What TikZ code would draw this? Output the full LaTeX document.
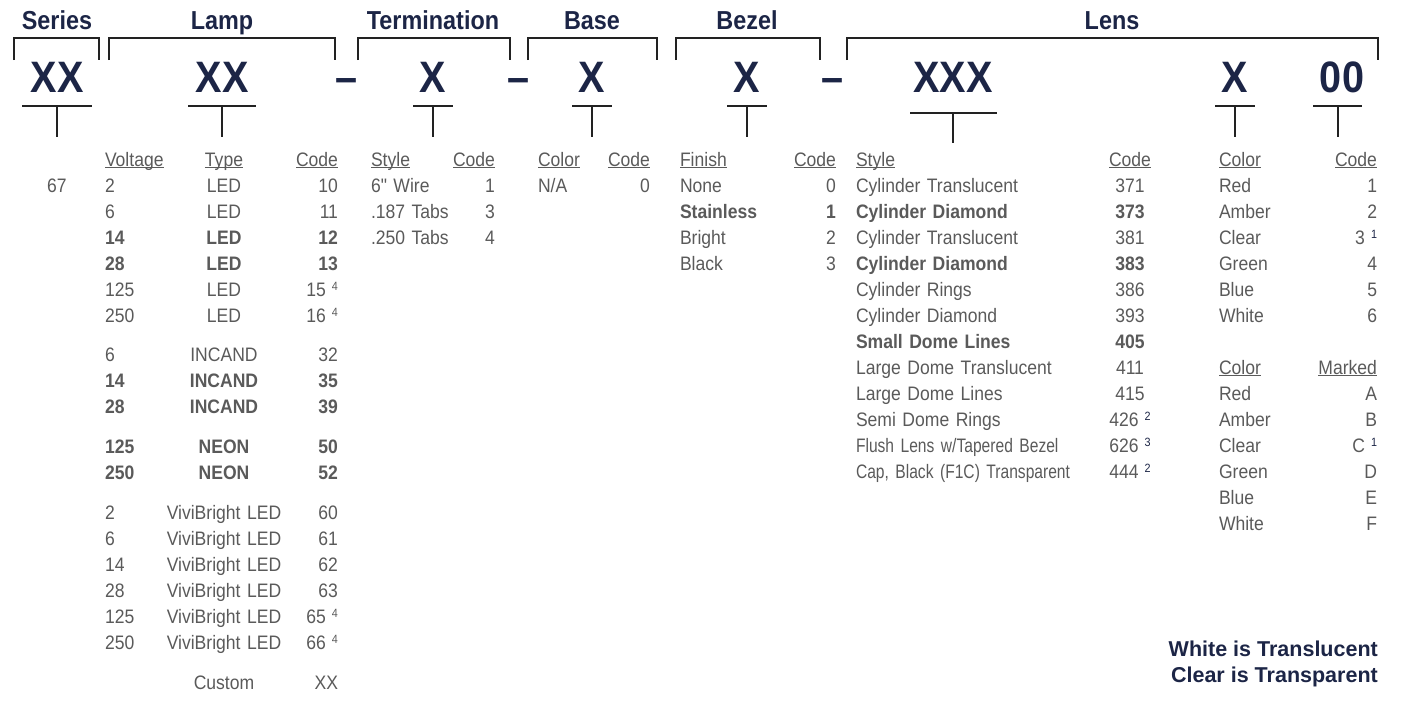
\documentclass[tikz,border=0pt]{standalone}
\usepackage{fontspec}
\setmainfont{Liberation Sans}[FakeStretch=0.9]
\newfontfamily\cellfont{Liberation Sans}[FakeStretch=0.9, Ligatures=TeXOff]
\newfontfamily\narrowfont{Liberation Sans}[FakeStretch=0.8]
\newfontfamily\notefont{Liberation Sans}
\usepackage{tikz}
\usetikzlibrary{positioning}
\definecolor{navy}{HTML}{1C2546}
\definecolor{txtgray}{HTML}{5A5A5A}
\definecolor{rulecol}{HTML}{222222}
\newcommand{\colhd}[1]{\underline{\smash{#1}}}
\newcommand{\fnote}[1]{\hspace{6pt}\raisebox{5.5pt}{\fontsize{12}{12}\selectfont #1}}
\tikzstyle{title} = [font=\fontsize{26}{30}\selectfont\bfseries, text=navy, inner sep=0, anchor=base]
\tikzstyle{code} = [font=\fontsize{44}{50}\selectfont\bfseries, text=navy, inner sep=0, anchor=base]
\tikzstyle{cell} = [font=\cellfont\fontsize{19.5}{22}\selectfont, text=txtgray, inner sep=0, text height=14pt, text depth=4pt]
\tikzstyle{lcol} = [cell, text width=300pt, align=left]
\tikzstyle{rcol} = [cell, text width=300pt, align=right]
\tikzstyle{ccol} = [cell, text width=300pt, align=center]
\tikzstyle{bracket} = [line width=2.5pt, draw=rulecol]
\tikzstyle{tee} = [line width=2pt, draw=rulecol]
\tikzstyle{note} = [font=\notefont\fontsize{21.5}{26}\selectfont\bfseries, text=navy, inner sep=0, anchor=base east]

\begin{document}
\begin{tikzpicture}[x=1pt, y=-1pt, node distance=26pt]
		\useasboundingbox (0,0) rectangle (1410,702);
		
		% group titles
		\node (tseries) [title] at (57,29) {Series};
		\node (tlamp) [title] at (222,29) {Lamp};
		\node (tterm) [title] at (433,29) {Termination};
		\node (tbase) [title] at (592,29) {Base};
		\node (tbezel) [title] at (747,29) {Bezel};
		\node (tlens) [title] at (1112,29) {Lens};
		
		\draw [bracket] (14,60) |- (99,38) -- (99,60);
		\draw [bracket] (109,60) |- (335,38) -- (335,60);
		\draw [bracket] (358,60) |- (510,38) -- (510,60);
		\draw [bracket] (528,60) |- (657,38) -- (657,60);
		\draw [bracket] (676,60) |- (820,38) -- (820,60);
		\draw [bracket] (847,60) |- (1378,38) -- (1378,60);
		
		% part number
		\node (cseries) [code] at (57,92) {XX};
		\node (clamp) [code] at (222,92) {XX};
		\node (dash1) [code] at (347,92) {--};
		\node (cterm) [code] at (433,92) {X};
		\node (dash2) [code] at (519,92) {--};
		\node (cbase) [code] at (592,92) {X};
		\node (cbezel) [code] at (747,92) {X};
		\node (dash3) [code] at (832,92) {--};
		\node (clens) [code] at (953,92) {XXX};
		\node (ccolor) [code] at (1235,92) {X};
		\node (cmark) [code] at (1342,92) {00};
		
		\draw [tee] (22,106) -- (92,106) (57,106) -- (57,137);
		\draw [tee] (188,106) -- (256,106) (222,106) -- (222,137);
		\draw [tee] (413,106) -- (453,106) (433,106) -- (433,137);
		\draw [tee] (572,106) -- (612,106) (592,106) -- (592,137);
		\draw [tee] (727,106) -- (767,106) (747,106) -- (747,137);
		\draw [tee] (910,113) -- (997,113) (953,113) -- (953,143);
		\draw [tee] (1215,106) -- (1255,106) (1235,106) -- (1235,137);
		\draw [tee] (1313,106) -- (1362,106) (1338,106) -- (1338,137);
		
		% series
		\node (s1) [ccol] at (57,187) {67};
		
		% lamp: voltage
		\node (volt) [lcol] at (255,161) {\colhd{Voltage}};
		\node (v1) [lcol, below of=volt] {2};
		\node (v2) [lcol, below of=v1] {6};
		\node (v3) [lcol, below of=v2] {\textbf{14}};
		\node (v4) [lcol, below of=v3] {\textbf{28}};
		\node (v5) [lcol, below of=v4] {125};
		\node (v6) [lcol, below of=v5] {250};
		\node (v7) [lcol, below of=v6, yshift=-13pt] {6};
		\node (v8) [lcol, below of=v7] {\textbf{14}};
		\node (v9) [lcol, below of=v8] {\textbf{28}};
		\node (v10) [lcol, below of=v9, yshift=-14pt] {\textbf{125}};
		\node (v11) [lcol, below of=v10] {\textbf{250}};
		\node (v12) [lcol, below of=v11, yshift=-14pt] {2};
		\node (v13) [lcol, below of=v12] {6};
		\node (v14) [lcol, below of=v13] {14};
		\node (v15) [lcol, below of=v14] {28};
		\node (v16) [lcol, below of=v15] {125};
		\node (v17) [lcol, below of=v16] {250};
		
		% lamp: type
		\node (type) [ccol] at (224,161) {\colhd{Type}};
		\node (t1) [ccol, below of=type] {LED};
		\node (t2) [ccol, below of=t1] {LED};
		\node (t3) [ccol, below of=t2] {\textbf{LED}};
		\node (t4) [ccol, below of=t3] {\textbf{LED}};
		\node (t5) [ccol, below of=t4] {LED};
		\node (t6) [ccol, below of=t5] {LED};
		\node (t7) [ccol, below of=t6, yshift=-13pt] {INCAND};
		\node (t8) [ccol, below of=t7] {\textbf{INCAND}};
		\node (t9) [ccol, below of=t8] {\textbf{INCAND}};
		\node (t10) [ccol, below of=t9, yshift=-14pt] {\textbf{NEON}};
		\node (t11) [ccol, below of=t10] {\textbf{NEON}};
		\node (t12) [ccol, below of=t11, yshift=-14pt] {ViviBright LED};
		\node (t13) [ccol, below of=t12] {ViviBright LED};
		\node (t14) [ccol, below of=t13] {ViviBright LED};
		\node (t15) [ccol, below of=t14] {ViviBright LED};
		\node (t16) [ccol, below of=t15] {ViviBright LED};
		\node (t17) [ccol, below of=t16] {ViviBright LED};
		\node (t18) [ccol, below of=t17, yshift=-14pt] {Custom};
		
		% lamp: code
		\node (lcode) [rcol] at (188,161) {\colhd{Code}};
		\node (l1) [rcol, below of=lcode] {10};
		\node (l2) [rcol, below of=l1] {11};
		\node (l3) [rcol, below of=l2] {\textbf{12}};
		\node (l4) [rcol, below of=l3] {\textbf{13}};
		\node (l5) [rcol, below of=l4] {15\fnote{4}};
		\node (l6) [rcol, below of=l5] {16\fnote{4}};
		\node (l7) [rcol, below of=l6, yshift=-13pt] {32};
		\node (l8) [rcol, below of=l7] {\textbf{35}};
		\node (l9) [rcol, below of=l8] {\textbf{39}};
		\node (l10) [rcol, below of=l9, yshift=-14pt] {\textbf{50}};
		\node (l11) [rcol, below of=l10] {\textbf{52}};
		\node (l12) [rcol, below of=l11, yshift=-14pt] {60};
		\node (l13) [rcol, below of=l12] {61};
		\node (l14) [rcol, below of=l13] {62};
		\node (l15) [rcol, below of=l14] {63};
		\node (l16) [rcol, below of=l15] {65\fnote{4}};
		\node (l17) [rcol, below of=l16] {66\fnote{4}};
		\node (l18) [rcol, below of=l17, yshift=-14pt] {XX};
		
		% termination
		\node (tstyle) [lcol] at (521,161) {\colhd{Style}};
		\node (ts1) [lcol, below of=tstyle] {6" Wire};
		\node (ts2) [lcol, below of=ts1] {.187 Tabs};
		\node (ts3) [lcol, below of=ts2] {.250 Tabs};
		\node (tcode) [rcol] at (345,161) {\colhd{Code}};
		\node (tc1) [rcol, below of=tcode] {1};
		\node (tc2) [rcol, below of=tc1] {3};
		\node (tc3) [rcol, below of=tc2] {4};
		
		% base
		\node (bcolor) [lcol] at (688,161) {\colhd{Color}};
		\node (bc1) [lcol, below of=bcolor] {N/A};
		\node (bcode) [rcol] at (500,161) {\colhd{Code}};
		\node (bk1) [rcol, below of=bcode] {0};
		
		% bezel
		\node (finish) [lcol] at (830,161) {\colhd{Finish}};
		\node (f1) [lcol, below of=finish] {None};
		\node (f2) [lcol, below of=f1] {\textbf{Stainless}};
		\node (f3) [lcol, below of=f2] {Bright};
		\node (f4) [lcol, below of=f3] {Black};
		\node (zcode) [rcol] at (686,161) {\colhd{Code}};
		\node (z1) [rcol, below of=zcode] {0};
		\node (z2) [rcol, below of=z1] {\textbf{1}};
		\node (z3) [rcol, below of=z2] {2};
		\node (z4) [rcol, below of=z3] {3};
		
		% lens: style
		\node (lstyle) [lcol] at (1006,161) {\colhd{Style}};
		\node (ls1) [lcol, below of=lstyle] {Cylinder Translucent};
		\node (ls2) [lcol, below of=ls1] {\textbf{Cylinder Diamond}};
		\node (ls3) [lcol, below of=ls2] {Cylinder Translucent};
		\node (ls4) [lcol, below of=ls3] {\textbf{Cylinder Diamond}};
		\node (ls5) [lcol, below of=ls4] {Cylinder Rings};
		\node (ls6) [lcol, below of=ls5] {Cylinder Diamond};
		\node (ls7) [lcol, below of=ls6] {\textbf{Small Dome Lines}};
		\node (ls8) [lcol, below of=ls7] {Large Dome Translucent};
		\node (ls9) [lcol, below of=ls8] {Large Dome Lines};
		\node (ls10) [lcol, below of=ls9] {Semi Dome Rings};
		\node (ls11) [lcol, below of=ls10] {\narrowfont Flush Lens w/Tapered Bezel};
		\node (ls12) [lcol, below of=ls11] {\narrowfont Cap, Black (F1C) Transparent};
		
		% lens: code
		\node (lncode) [ccol] at (1130,161) {\colhd{Code}};
		\node (lc1) [ccol, below of=lncode] {371};
		\node (lc2) [ccol, below of=lc1] {\textbf{373}};
		\node (lc3) [ccol, below of=lc2] {381};
		\node (lc4) [ccol, below of=lc3] {\textbf{383}};
		\node (lc5) [ccol, below of=lc4] {386};
		\node (lc6) [ccol, below of=lc5] {393};
		\node (lc7) [ccol, below of=lc6] {\textbf{405}};
		\node (lc8) [ccol, below of=lc7] {411};
		\node (lc9) [ccol, below of=lc8] {415};
		\node (lc10) [ccol, below of=lc9] {426\textcolor{navy}{\fnote{2}}};
		\node (lc11) [ccol, below of=lc10] {626\textcolor{navy}{\fnote{3}}};
		\node (lc12) [ccol, below of=lc11] {444\textcolor{navy}{\fnote{2}}};
		
		% lens: color
		\node (color) [lcol] at (1369,161) {\colhd{Color}};
		\node (k1) [lcol, below of=color] {Red};
		\node (k2) [lcol, below of=k1] {Amber};
		\node (k3) [lcol, below of=k2] {Clear};
		\node (k4) [lcol, below of=k3] {Green};
		\node (k5) [lcol, below of=k4] {Blue};
		\node (k6) [lcol, below of=k5] {White};
		\node (color2) [lcol, below of=k6, yshift=-26pt] {\colhd{Color}};
		\node (m1) [lcol, below of=color2] {Red};
		\node (m2) [lcol, below of=m1] {Amber};
		\node (m3) [lcol, below of=m2] {Clear};
		\node (m4) [lcol, below of=m3] {Green};
		\node (m5) [lcol, below of=m4] {Blue};
		\node (m6) [lcol, below of=m5] {White};
		
		\node (ccode) [rcol] at (1227,161) {\colhd{Code}};
		\node (kc1) [rcol, below of=ccode] {1};
		\node (kc2) [rcol, below of=kc1] {2};
		\node (kc3) [rcol, below of=kc2] {3\textcolor{navy}{\fnote{1}}};
		\node (kc4) [rcol, below of=kc3] {4};
		\node (kc5) [rcol, below of=kc4] {5};
		\node (kc6) [rcol, below of=kc5] {6};
		\node (marked) [rcol, below of=kc6, yshift=-26pt] {\colhd{Marked}};
		\node (mc1) [rcol, below of=marked] {A};
		\node (mc2) [rcol, below of=mc1] {B};
		\node (mc3) [rcol, below of=mc2] {C\textcolor{navy}{\fnote{1}}};
		\node (mc4) [rcol, below of=mc3] {D};
		\node (mc5) [rcol, below of=mc4] {E};
		\node (mc6) [rcol, below of=mc5] {F};
		
		% note
		\node (note1) [note] at (1378,656) {White is Translucent};
		\node (note2) [note] at (1378,682) {Clear is Transparent};
		
		\end{tikzpicture}
\end{document}
